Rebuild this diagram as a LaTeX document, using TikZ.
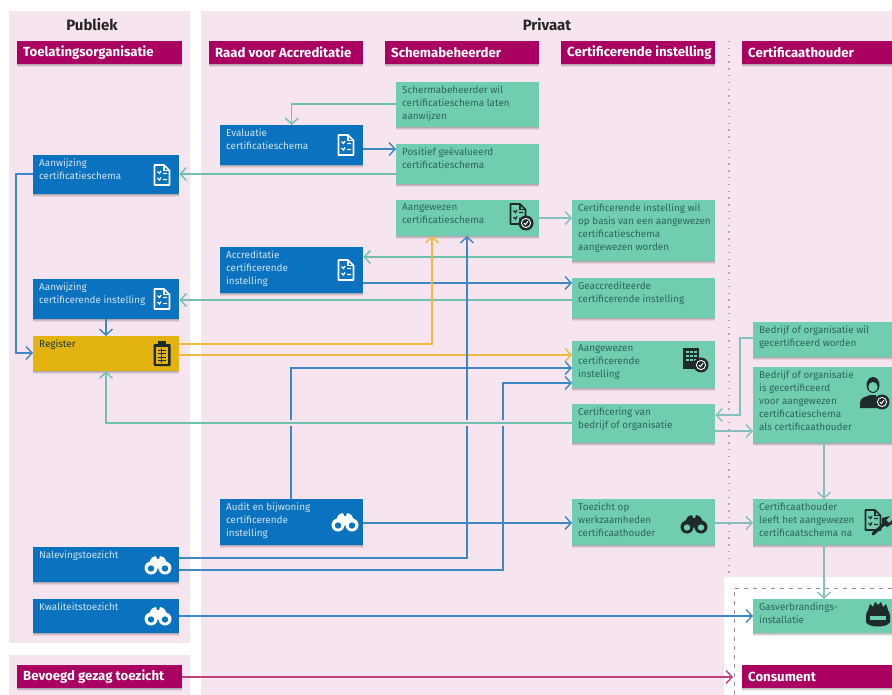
\documentclass[tikz,border=0pt]{standalone}
\usepackage{fontspec}
\setmainfont{Fira Sans}
\usetikzlibrary{arrows.meta,shadows,calc}
\definecolor{panelc}{HTML}{F6E5EF}
\definecolor{magc}{HTML}{A90061}
\definecolor{blueb}{HTML}{0A72BE}
\definecolor{greenb}{HTML}{70CDB0}
\definecolor{yellb}{HTML}{E3B30F}
\definecolor{bluel}{HTML}{3F86C4}
\definecolor{greenl}{HTML}{72BFB0}
\definecolor{greyl}{HTML}{86BFC0}
\definecolor{yell}{HTML}{EEBB40}
\definecolor{magl}{HTML}{C2407C}
\definecolor{bluet}{HTML}{CFE3F2}
\definecolor{greent}{HTML}{2F665C}
\definecolor{icond}{HTML}{1F2A2A}
\newcommand{\bodyfont}{\fontsize{9.9}{13}\selectfont}
\newcommand{\headfont}{\fontsize{13.2}{15}\selectfont\bfseries}
\newlength{\bxw}\newlength{\bxh}
% name, style, x1, y1, x2, y2, text
\newcommand{\bx}[7]{%
  \pgfmathsetlength{\bxw}{#5-#3-9}%
  \pgfmathsetlength{\bxh}{#6-#4}%
  \node[#2,anchor=north west,inner sep=0pt] (#1) at (#3,#4)
   {\kern6pt\begin{minipage}[t][\bxh][t]{\bxw}\raggedright\vspace{3.4pt}\bodyfont #7\end{minipage}\kern3pt\relax};}
\newcommand{\hd}[6]{%
  \pgfmathsetlength{\bxw}{#4-#2-9}%
  \node[hdbox,anchor=north west,inner sep=0pt,minimum height={(#5-#3)*1pt}] (#1) at (#2,#3)
   {\kern6pt\begin{minipage}{\bxw}\raggedright\headfont #6\end{minipage}\kern3pt\relax};}
\tikzset{
  shad/.style={drop shadow={shadow xshift=0pt,shadow yshift=-1pt,opacity=.12,fill=black},
               drop shadow={shadow xshift=0pt,shadow yshift=-2pt,opacity=.10,fill=black},
               drop shadow={shadow xshift=0pt,shadow yshift=-3pt,opacity=.07,fill=black}},
  bluebox/.style={fill=blueb,text=bluet,shad},
  greenbox/.style={fill=greenb,text=greent,shad},
  yellbox/.style={fill=yellb,text=greent!60!black,shad},
  hdbox/.style={fill=magc,text=white,shad},
  conn/.style={line width=1.4pt,-{Straight Barb[length=6pt,width=13pt,line width=1.4pt]}},
  lnblue/.style={conn,draw=bluel},
  lngreen/.style={conn,draw=greenl},
  lngrey/.style={conn,draw=greyl},
  lnyell/.style={conn,draw=yell},
  lnmag/.style={conn,draw=magl},
  pics/docic/.style n args={2}{code={
    \draw[#1,line width=1.7pt,line join=round,fill=#2] (-7.5,-10)--(2,-10)--(7.5,-4.5)--(7.5,10)--(-7.5,10)--cycle;
    \draw[#1,line width=1.2pt] (-4.5,-3.5)--(-2.5,-1.5)--(-1,-4) (-4.5,3)--(-2.5,5)--(-1,2.5) (1,-1.5)--(5,-1.5) (1,4.5)--(5,4.5);
    \draw[#1,line width=1.2pt] (2,-10)--(2,-4.5)--(7.5,-4.5);
  }},
  pics/binoc/.style n args={2}{code={
    \fill[#1] (-12.5,3.5) to[out=-80,in=210] (-5,-8) -- (-2,-9) -- (-1,-6) -- (1,-6) -- (2,-9) -- (5,-8) to[out=-30,in=260] (12.5,3.5) -- cycle;
    \fill[#1] (-7,3) circle (6.5) (7,3) circle (6.5);
    \fill[#2] (-7,3.5) circle (3.2) (7,3.5) circle (3.2);
  }},
  pics/badge/.style={code={
    \fill[icond] (0,0) circle (7.5);
    \draw[white,line width=.9pt] (0,0) circle (4.6);
    \draw[white,line width=1pt] (-2,0)--(-.6,1.6)--(2,-1.8);
  }},
}
\begin{document}
\begin{tikzpicture}[x=1pt,y=-1pt]
\useasboundingbox (0,0) rectangle (892,695);
\fill[white] (0,0) rectangle (892,695);
% panels
\fill[panelc] (9,11) rectangle (190,643);
\fill[panelc] (9,655) rectangle (190,695);
\fill[panelc] (201,11) rectangle (892,695);
\fill[white] (724,577) rectangle (892,695);
\draw[greyl!60!magl,line width=1pt,dash pattern=on 4pt off 5pt] (734,695)--(734,588)--(892,588);
\draw[magl!35!gray!60,line width=1.4pt,dash pattern=on 1.4pt off 5.4pt] (729,41)--(729,575);
\node[font=\fontsize{15}{17}\selectfont\bfseries,text=black!85] (publiek) at (92,25) {Publiek};
\node[font=\fontsize{15}{17}\selectfont\bfseries,text=black!85] (privaat) at (547,25) {Privaat};
% headers
\hd{h1}{17}{41}{182}{64}{Toelatingsorganisatie}
\hd{h2}{209}{41}{363}{64}{Raad voor Accreditatie}
\hd{h3}{385}{41}{539}{64}{Schemabeheerder}
\hd{h4}{561}{41}{715}{64}{Certificerende instelling}
\hd{h5}{742}{41}{896}{64}{Certificaathouder}
\hd{h6}{17}{665}{182}{688}{Bevoegd gezag toezicht}
\hd{h7}{742}{665}{896}{688}{Consument}
% boxes
\bx{ev}{bluebox}{220}{125}{363}{165}{Evaluatie\\certificatieschema}
\bx{acs}{bluebox}{33}{155}{179}{194}{Aanwijzing\\certificatieschema}
\bx{acc}{bluebox}{220}{247}{363}{293}{Accreditatie\\certificerende\\instelling}
\bx{aci}{bluebox}{33}{279}{179}{319}{Aanwijzing\\certificerende instelling}
\bx{reg}{yellbox}{33}{336}{179}{371}{Register}
\bx{aud}{bluebox}{220}{499}{363}{545}{Audit en bijwoning\\certificerende\\instelling}
\bx{nal}{bluebox}{33}{547}{179}{582}{Nalevingstoezicht}
\bx{kwa}{bluebox}{33}{599}{179}{633}{Kwaliteitstoezicht}
\bx{sch}{greenbox}{396}{82}{539}{127}{Schermabeheerder wil\\certificatieschema laten\\aanwijzen}
\bx{pos}{greenbox}{396}{144}{539}{184}{Positief geëvalueerd\\certificatieschema}
\bx{asc}{greenbox}{396}{200}{539}{236}{Aangewezen\\certificatieschema}
\bx{wil}{greenbox}{572}{200}{715}{261}{Certificerende instelling wil\\op basis van een aangewezen\\certificatieschema\\aangewezen worden}
\bx{gea}{greenbox}{572}{278}{715}{318}{Geaccrediteerde\\certificerende instelling}
\bx{ain}{greenbox}{572}{341}{715}{388}{Aangewezen\\certificerende\\instelling}
\bx{cer}{greenbox}{572}{404}{715}{443}{Certificering van\\bedrijf of organisatie}
\bx{toe}{greenbox}{572}{499}{715}{545}{Toezicht op\\werkzaamheden\\certificaathouder}
\bx{bw}{greenbox}{753}{322}{896}{357}{Bedrijf of organisatie wil\\gecertificeerd worden}
\bx{bi}{greenbox}{753}{367}{896}{443}{Bedrijf of organisatie\\is gecertificeerd\\voor aangewezen\\certificatieschema\\als certificaathouder}
\bx{lee}{greenbox}{753}{499}{896}{545}{Certificaathouder\\leeft het aangewezen\\certificaatschema na}
\bx{gas}{greenbox}{753}{599}{896}{633}{Gasverbrandings-\\installatie}
% connectors
\draw[lngreen] (sch.west |- 0,104) -| (ev.north);
\draw[lnblue] (ev.east |- 0,149) -- (pos.west |- 0,149);
\draw[lngreen] (pos.west |- 0,174) -- (acs.east |- 0,174);
\draw[lnblue] (acs.west |- 0,174) -- (16,174) |- (reg.west |- 0,353);
\draw[lngrey] (asc.east |- 0,218) -- (wil.west |- 0,218);
\draw[lngreen] (wil.west |- 0,257) -- (acc.east |- 0,257);
\draw[lnblue] (acc.east |- 0,283) -- (gea.west |- 0,283);
\draw[lngreen] (gea.west |- 0,300) -- (aci.east |- 0,300);
\draw[lnblue] (aci.south -| 106,0) -- (reg.north -| 106,0);
\draw[lnyell] (reg.east |- 0,344) -- (432,344) -- (432,236);
\draw[lnyell] (reg.east |- 0,355) -- (ain.west |- 0,355);
\draw[lnblue] ([xshift=-.6pt]aud.north) |- (ain.west |- 0,368);
\draw[lnblue] (aud.east |- 0,523) -- (toe.west |- 0,523);
\draw[lnblue] (nal.east |- 0,558) -- (467,558) -- (467,236);
\draw[lnblue] (nal.east |- 0,570) -- (503,570) -- (503,383) -- (ain.west |- 0,383);
\draw[lnblue] (kwa.east |- 0,616) -- (gas.west |- 0,616);
\draw[lnmag] (h6.east |- 0,677) -- (733,677);
\draw[panelc,line width=6pt] (287,423) -- (296,423) (463,423)--(471,423) (499,423)--(507,423);
\draw[lngreen] (cer.west |- 0,423) -- (106,423) -- (reg.south -| 106,0);
\draw[lngrey] (bw.west |- 0,338) -- (740,338) -- (740,415) -- (cer.east |- 0,415);
\draw[lngrey] (cer.east |- 0,431) -- (bi.west |- 0,431);
\draw[lngrey] (bi.south -| 824,0) -- (lee.north -| 824,0);
\draw[lngrey] (toe.east |- 0,523) -- (lee.west |- 0,523);
\draw[lngrey] (lee.south -| 824,0) -- (gas.north -| 824,0);
% icons
\pic at (346,145) {docic={white}{blueb}};
\pic at (162,175) {docic={white}{blueb}};
\pic at (346,270) {docic={white}{blueb}};
\pic at (162,299) {docic={white}{blueb}};
\pic at (345,522) {binoc={white}{blueb}};
\pic at (158,565) {binoc={white}{blueb}};
\pic at (158,616) {binoc={white}{blueb}};
\pic at (694,524) {binoc={icond}{greenb}};
\begin{scope}[shift={(518,214)},scale=.8]\pic at (0,0) {docic={icond}{greenb}};\end{scope}
\pic at (526,223) {badge};
% clipboard
\fill[icond,rounded corners=1pt] (153.5,344) rectangle (170.5,366);
\fill[icond] (158,341) rectangle (166,346);
\fill[yellb] (156,347) rectangle (168,363.5);
\draw[icond,line width=1pt] (158,350)--(166,350) (158,353.5)--(166,353.5) (158,357)--(166,357) (158,360.5)--(166,360.5) (161,348)--(161,363);
% building
\fill[icond] (683,348) rectangle (699,369);
\foreach \i in {0,1,2} \foreach \j in {0,1,2} \fill[greenb] ({685.5+\i*4.2},{350.5+\j*4}) rectangle ({688.5+\i*4.2},{353+\j*4});
\pic at (701,365) {badge};
% person
\fill[icond] (873,385) ellipse (6.5 and 8);
\fill[greenb] (873,387) ellipse (4.7 and 5);
\fill[icond] (860,408) -- (860,402) .. controls (861,397) and (866,397) .. (870,395) -- (876,395) -- (878,408) -- cycle;
\pic at (882,402) {badge};
% wrench + doc
\begin{scope}[shift={(873,520)},scale=.65]\pic at (0,0) {docic={icond}{greenb}};\end{scope}
\draw[icond,line width=3.2pt,line cap=round] (873,534)--(885,523);
\fill[icond] (882,518) -- (890,516) -- (886,520) -- (889,523) -- (892,520) -- (892,524) -- (887,527) -- (882,524) -- cycle;
% burner
\fill[icond] (866,616) .. controls (866,610) and (870,607) .. (878,607) .. controls (886,607) and (890,610) .. (890,616) -- (890,622) .. controls (888,628) and (868,628) .. (866,622) -- cycle;
\fill[icond] (868,610)--(870,604)--(873,607)--(875,602)--(878,605)--(881,602)--(883,607)--(886,604)--(888,610)--cycle;
\fill[greenb] (870,615.5) rectangle (886,620);
\end{tikzpicture}
\end{document}
